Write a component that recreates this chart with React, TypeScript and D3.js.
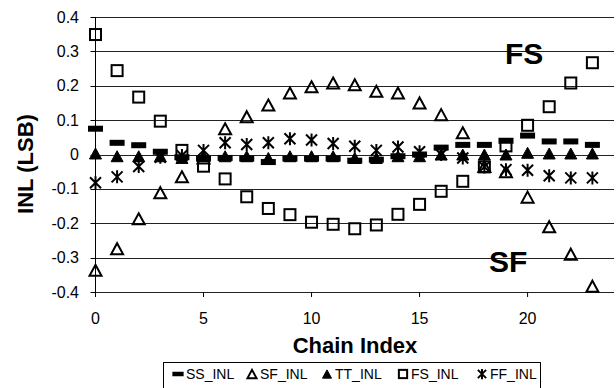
import React from "react";
import * as d3 from "d3";

const chainIndex = [0,1,2,3,4,5,6,7,8,9,10,11,12,13,14,15,16,17,18,19,20,21,22,23];
const ssInl = [0.075,0.034,0.027,0.008,-0.008,-0.012,-0.01,-0.012,-0.022,-0.012,-0.012,-0.012,-0.018,-0.015,-0.005,0.0,0.02,0.028,0.028,0.04,0.055,0.038,0.038,0.028];
const sfInl = [-0.337,-0.274,-0.187,-0.111,-0.065,-0.01,0.075,0.11,0.144,0.179,0.197,0.208,0.203,0.184,0.179,0.15,0.116,0.063,-0.035,-0.05,-0.124,-0.21,-0.29,-0.383];
const ttInl = [0.003,-0.005,-0.005,-0.005,-0.01,-0.005,-0.005,-0.005,-0.01,-0.005,-0.005,-0.005,-0.01,-0.01,-0.005,-0.005,0,0,0,0,0.005,0.003,0.003,0.003];
const fsInl = [0.349,0.244,0.167,0.097,0.012,-0.034,-0.071,-0.123,-0.157,-0.175,-0.197,-0.203,-0.216,-0.205,-0.174,-0.145,-0.107,-0.078,-0.036,0.025,0.085,0.139,0.208,0.267];
const ffInl = [-0.082,-0.065,-0.035,-0.008,-0.003,0.012,0.034,0.029,0.034,0.046,0.042,0.032,0.024,0.012,0.022,0.008,0.0,-0.01,-0.036,-0.044,-0.046,-0.062,-0.068,-0.068];

const yTicks = [-0.4,-0.3,-0.2,-0.1,0,0.1,0.2,0.3,0.4];
const yTickLabels = ["-0.4","-0.3","-0.2","-0.1","0","0.1","0.2","0.3","0.4"];
const xTicks = [0,5,10,15,20];
const seriesNames = ["SS_INL","SF_INL","TT_INL","FS_INL","FF_INL"];

const FONT = "Liberation Sans, Arial, sans-serif";

type Kind = "bar" | "otri" | "ftri" | "sq" | "star";

function Marker({ kind, x, y, s = 1 }: { kind: Kind; x: number; y: number; s?: number }) {
  if (kind === "bar") {
    return <rect x={x - 7.5 * s} y={y - 3 * s} width={15 * s} height={6 * s} fill="#000" />;
  }
  if (kind === "otri" || kind === "ftri") {
    const w = 6 * s, h = 5.5 * s;
    const p = `M${x},${y - h} L${x + w},${y + h} L${x - w},${y + h} Z`;
    return kind === "otri"
      ? <path d={p} fill="none" stroke="#000" strokeWidth={2} strokeLinejoin="miter" />
      : <path d={p} fill="#000" stroke="#000" strokeWidth={1} />;
  }
  if (kind === "sq") {
    return <rect x={x - 5.5 * s} y={y - 5.5 * s} width={11 * s} height={11 * s} fill="none" stroke="#000" strokeWidth={2} />;
  }
  const r = 5.5 * s;
  return (
    <path
      d={`M${x - r},${y - r} L${x + r},${y + r} M${x - r},${y + r} L${x + r},${y - r} M${x},${y - r - 1} L${x},${y + r + 1}`}
      stroke="#000"
      strokeWidth={2}
      fill="none"
    />
  );
}

export default function App() {
  const W = 616, H = 388;
  const x = d3.scaleLinear().domain([0, 24]).range([95.5, 614]);
  const y = d3.scaleLinear().domain([-0.4, 0.4]).range([292, 17]);

  const series: { kind: Kind; vals: number[] }[] = [
    { kind: "bar", vals: ssInl },
    { kind: "otri", vals: sfInl },
    { kind: "ftri", vals: ttInl },
    { kind: "sq", vals: fsInl },
    { kind: "star", vals: ffInl },
  ];
  const legendKinds: Kind[] = ["bar", "otri", "ftri", "sq", "star"];
  const legendX = [178, 252, 327, 403, 482];

  return (
    <svg width={W} height={H} style={{ position: "absolute", left: 0, top: 0, background: "#fff" }} fontFamily={FONT}>
      <rect width={W} height={H} fill="#fff" />
      {/* gridlines */}
      {yTicks.map((t, i) => (
        <line key={"g" + i} x1={x(0)} x2={x(24)} y1={Math.round(y(t)) + 0.5} y2={Math.round(y(t)) + 0.5} stroke="#222" strokeWidth={1} />
      ))}
      {/* y axis */}
      <line x1={x(0)} x2={x(0)} y1={y(0.4)} y2={y(-0.4)} stroke="#000" strokeWidth={1} />
      {yTicks.map((t, i) => (
        <line key={"yt" + i} x1={x(0) - 5} x2={x(0)} y1={Math.round(y(t)) + 0.5} y2={Math.round(y(t)) + 0.5} stroke="#000" />
      ))}
      {yTicks.map((t, i) => (
        <text key={"yl" + i} x={79} y={y(t) + 5.5} textAnchor="end" fontSize={16} fill="#000">{yTickLabels[i]}</text>
      ))}
      {/* x axis ticks */}
      {xTicks.map((t, i) => (
        <line key={"xt" + i} x1={x(t)} x2={x(t)} y1={y(-0.4)} y2={y(-0.4) + 5} stroke="#000" />
      ))}
      {xTicks.map((t, i) => (
        <text key={"xl" + i} x={x(t)} y={324} textAnchor="middle" fontSize={16} fill="#000">{String(t)}</text>
      ))}
      {/* series */}
      {series.map((s, si) => (
        <g key={"s" + si}>
          {s.vals.map((v, i) => (
            <Marker key={i} kind={s.kind} x={x(chainIndex[i])} y={y(v)} />
          ))}
        </g>
      ))}
      {/* annotations */}
      <text x={505} y={64} fontSize={30} fontWeight="bold" fill="#000">FS</text>
      <text x={489} y={272} fontSize={30} fontWeight="bold" fill="#000">SF</text>
      {/* axis titles */}
      <text x={355} y={353} textAnchor="middle" fontSize={22} fontWeight="bold" fill="#000">Chain Index</text>
      <text transform="translate(33,164) rotate(-90)" textAnchor="middle" fontSize={22} fontWeight="bold" fill="#000">INL (LSB)</text>
      {/* legend */}
      <rect x={163.5} y={362.5} width={377} height={40} fill="#fff" stroke="#000" strokeWidth={1} />
      {seriesNames.map((n, i) => (
        <g key={"lg" + i}>
          <Marker kind={legendKinds[i]} x={legendX[i]} y={374} s={0.75} />
          <text x={legendX[i] + 8} y={379} fontSize={14} fill="#000">{n}</text>
        </g>
      ))}
    </svg>
  );
}
